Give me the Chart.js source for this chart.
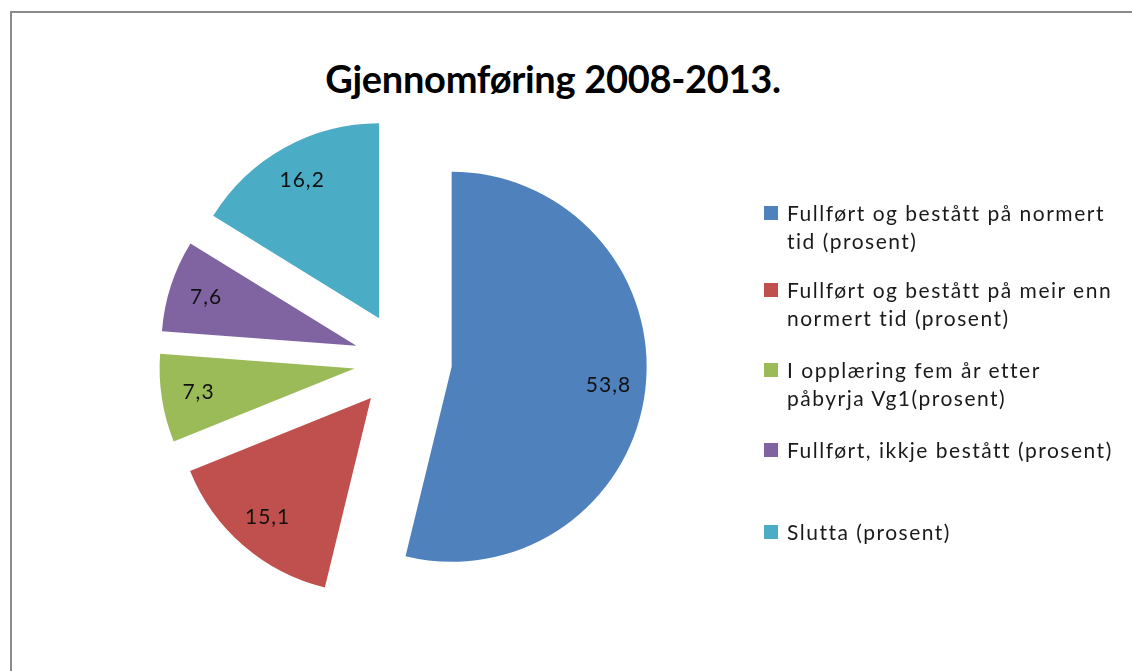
<!DOCTYPE html>
<html>
<head>
<meta charset="utf-8">
<script src="https://cdn.jsdelivr.net/npm/chart.js@4.4.0/dist/chart.umd.min.js"></script>
<style>
  html, body { margin: 0; padding: 0; background: #fff; }
  body { width: 1132px; height: 671px; position: relative; overflow: hidden; font-family: Lato, "Liberation Sans", sans-serif; }
  #frame { position: absolute; left: 10px; top: 11px; width: 1140px; height: 700px; border-left: 2px solid #8a8a8a; border-top: 2px solid #8a8a8a; box-sizing: border-box; }
  #c { position: absolute; left: 0; top: 0; }
  #title { position: absolute; left: 0; width: 1106px; top: 53px; text-align: center; font-weight: bold; font-size: 38px; color: #000; line-height: 50px; letter-spacing: -0.3px; }
  .lg { position: absolute; left: 764px; font-size: 21px; line-height: 28px; color: #1a1a1a; letter-spacing: 1.5px; }
  .lg .sw { position: absolute; left: 0; top: 7px; width: 14px; height: 14px; }
  .lg .tx { position: absolute; left: 23px; white-space: nowrap; }
</style>
</head>
<body>
<div id="frame"></div>
<div id="title">Gjennomføring 2008-2013.</div>
<canvas id="c" width="1132" height="671"></canvas>
<div id="legend"></div>
<script>
// ---- data ----
const categories = [
  "Fullført og bestått på normert tid (prosent)",
  "Fullført og bestått på meir enn normert tid (prosent)",
  "I opplæring fem år etter påbyrja Vg1(prosent)",
  "Fullført, ikkje bestått (prosent)",
  "Slutta (prosent)"
];
const legendLines = [
  ["Fullført og bestått på normert", "tid (prosent)"],
  ["Fullført og bestått på meir enn", "normert tid (prosent)"],
  ["I opplæring fem år etter", "påbyrja Vg1(prosent)"],
  ["Fullført, ikkje bestått (prosent)"],
  ["Slutta (prosent)"]
];
const values = [53.8, 15.1, 7.3, 7.6, 16.2];
const colors = ["#4F81BD", "#C0504D", "#9BBB59", "#8064A2", "#4BACC6"];

// ---- styling constants ----
const EXPLODE = 49;
const LABEL_FRAC = 0.81;
const legendTops = [199, 276, 356, 436, 518];

// legend (HTML text)
const lg = document.getElementById('legend');
legendLines.forEach((lines, i) => {
  const d = document.createElement('div');
  d.className = 'lg';
  d.style.top = legendTops[i] + 'px';
  const sw = document.createElement('div');
  sw.className = 'sw';
  sw.style.background = colors[i];
  const tx = document.createElement('div');
  tx.className = 'tx';
  tx.innerHTML = lines.join('<br>');
  d.appendChild(sw); d.appendChild(tx);
  lg.appendChild(d);
});

const explodePlugin = {
  id: 'explode',
  afterDatasetUpdate(chart, args) {
    args.meta.data.forEach(arc => {
      const mid = (arc.startAngle + arc.endAngle) / 2;
      arc.x += Math.cos(mid) * EXPLODE;
      arc.y += Math.sin(mid) * EXPLODE;
    });
  }
};

const labelPlugin = {
  id: 'sliceLabels',
  afterDatasetsDraw(chart) {
    const ctx = chart.ctx;
    const meta = chart.getDatasetMeta(0);
    ctx.save();
    ctx.fillStyle = '#111';
    ctx.font = '21px Lato, "Liberation Sans", sans-serif';
    if ('letterSpacing' in ctx) ctx.letterSpacing = '1px';
    ctx.textAlign = 'center';
    ctx.textBaseline = 'middle';
    meta.data.forEach((arc, i) => {
      const mid = (arc.startAngle + arc.endAngle) / 2;
      const r = arc.outerRadius * LABEL_FRAC;
      const x = arc.x + Math.cos(mid) * r;
      const y = arc.y + Math.sin(mid) * r;
      ctx.fillText(values[i].toFixed(1).replace('.', ','), x, y);
    });
    ctx.restore();
  }
};

new Chart(document.getElementById('c'), {
  type: 'pie',
  data: {
    labels: categories,
    datasets: [{
      data: values,
      backgroundColor: colors,
      borderWidth: 0
    }]
  },
  options: {
    responsive: false,
    animation: false,
    layout: { padding: { left: 208, right: 534, top: 166, bottom: 115 } },
    plugins: {
      legend: { display: false },
      title: { display: false },
      tooltip: { enabled: false }
    }
  },
  plugins: [explodePlugin, labelPlugin]
});
</script>
</body>
</html>
